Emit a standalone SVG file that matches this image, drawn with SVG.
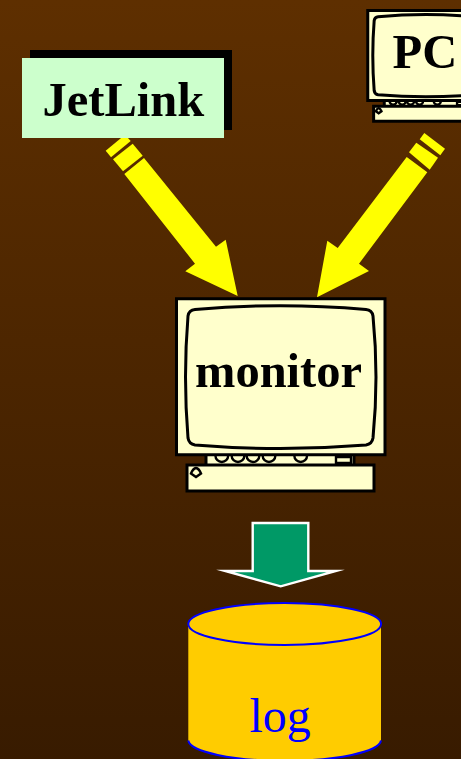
<svg xmlns="http://www.w3.org/2000/svg" width="461" height="759" viewBox="0 0 461 759">
<style>
.lbl{font-family:"Liberation Serif","Times New Roman",serif;font-size:48.5px;font-weight:bold;fill:#000}
.ln{fill:#ffffcc;stroke:#000;stroke-width:3;vector-effect:non-scaling-stroke}
.ln2{fill:none;stroke:#000;stroke-width:2.400;vector-effect:non-scaling-stroke}
.yl{fill:#ffff00}
</style>
<defs>
<linearGradient id="bg" x1="0" y1="0" x2="0" y2="1"><stop offset="0" stop-color="#5e2f00"/><stop offset="1" stop-color="#381b00"/></linearGradient>
<g id="computer">
<rect class="ln" x="206" y="454" width="148" height="12"/>
<path class="ln2" d="M215.500 456a6.300 6 0 0 0 12.600 0M231.700 456a6.300 6 0 0 0 12.600 0M246.700 456a6.300 6 0 0 0 12.600 0M262.700 456a6.300 6 0 0 0 12.600 0M294.400 456a6.300 6 0 0 0 12.600 0"/>
<rect class="ln2" x="336" y="457" width="15" height="6"/>
<rect class="ln" x="187" y="465" width="187" height="26"/>
<path class="ln2" d="M191 473.500Q193 468.500 196 468Q199 468.500 201 473.500L196 477Z"/>
<rect class="ln" x="176.500" y="298.800" width="208.500" height="156"/>
<path class="ln" d="M195 309.500Q280 302 366 309.500Q372 310 373 316Q379 377 373 438Q372 444 366 445Q280 452 195 445Q189 444 188 438Q183 377 188 316Q189 310 195 309.500Z"/>
</g>
</defs>
<rect width="461" height="759" fill="url(#bg)"/>
<g id="connectors">
<g id="arrow-jetlink-monitor" class="yl">
<polygon points="105.700,150.700 125,134.700 130.700,141 111,157.300"/>
<polygon points="113,159.300 132.700,143.700 142.700,155.700 123,171.300"/>
<polygon points="124.300,174 144,158 216,246.700 225.700,239.700 237.700,296 185.300,271.300 195,263.700"/>
</g>
<g id="arrow-pc-monitor" class="yl">
<polygon points="419.700,139.300 424.300,133 445,148.700 440.300,155.300"/>
<polygon points="409,152.300 416.300,142.700 438,157.700 429.700,169.700"/>
<polygon points="406.700,157 427.300,172.300 359,263.700 369,271 317,297.300 327.300,240.700 337.700,248"/>
</g>
<polygon id="arrow-monitor-log" points="252.700,523 308.300,523 308.300,571 336,571 280.700,586.300 225,571 252.700,571" fill="#009966" stroke="#ffffff" stroke-width="2.400" stroke-miterlimit="10"/>
</g>
<g id="node-jetlink">
<rect x="30" y="50" width="202" height="80" fill="#000"/>
<rect x="22" y="58" width="202" height="80" fill="#ccffcc"/>
<text class="lbl" x="42.500" y="116">JetLink</text>
</g>
<g id="node-pc">
<use href="#computer" transform="translate(367.300 10) scale(0.56 0.577) translate(-175.700 -298)"/>
<text class="lbl" x="392.500" y="68">PC</text>
</g>
<g id="node-monitor">
<use href="#computer"/>
<text class="lbl" x="195" y="387">monitor</text>
</g>
<g id="node-log">
<path d="M188.300 624V740.500A96.400 21 0 0 0 381 740.500V624Z" fill="#ffcc00"/>
<path d="M188.300 740.500A96.400 21 0 0 0 381 740.500" fill="none" stroke="#0000ff" stroke-width="2"/>
<ellipse cx="284.700" cy="624" rx="96.400" ry="21" fill="#ffcc00" stroke="#0000ff" stroke-width="2"/>
<text x="249.500" y="732" font-family="'Liberation Serif','Times New Roman',serif" font-size="48" fill="#0000ff">log</text>
</g>
</svg>
